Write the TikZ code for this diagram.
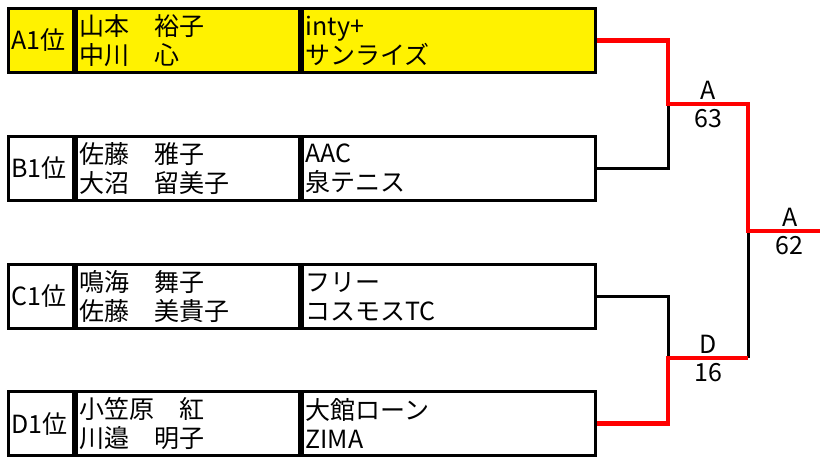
\documentclass[tikz,border=0pt]{standalone}
\usepackage{fontspec}
\setmainfont{Noto Sans CJK JP}
\usetikzlibrary{positioning}
\tikzset{
	cell/.style={draw, line width=3bp, minimum height=64bp, inner sep=3bp, align=left, anchor=north west},
	win/.style={draw=red, line width=4.5bp},
	lose/.style={draw=black, line width=3bp},
}

\begin{document}
\begin{tikzpicture}[x=1bp, y=-1bp, font=\fontsize{25bp}{29bp}\selectfont]
\useasboundingbox (0,0) rectangle (820,457);
\foreach \r/\y/\f/\na/\nb/\ca/\cb in {
	A/7/yellow/山本　裕子/中川　心/inty+/サンライズ,
	B/135/white/佐藤　雅子/大沼　留美子/AAC/泉テニス,
	C/263/white/鳴海　舞子/佐藤　美貴子/フリー/コスモスTC,
	D/390/white/小笠原　紅/川邉　明子/大館ローン/ZIMA}
{
	\node[cell, fill=\f, text width=59bp] (r\r) at (7,\y) {\r1位};
	\node[cell, fill=\f, text width=217bp] (n\r) at (r\r.north east) {\na\\\nb};
	\node[cell, fill=\f, text width=287bp] (c\r) at (n\r.north east) {\ca\\\cb};
}
\coordinate (sfA) at (668,104);
\coordinate (sfD) at (668,358);
\coordinate (fin) at (748,231);
\coordinate (champ) at (820,231);
% losers
\draw[lose] (cB.east) -| (sfA);
\draw[lose] (cC.east) -| (sfD);
\draw[lose] (fin) -- (fin |- sfD);
% winners
\draw[win] (cA.east) -| (sfA) -- (sfA -| fin) -- (fin) -- (champ);
\draw[win] (cD.east) -| (sfD) -- (sfD -| fin);
\path (sfA) -- (sfA -| fin) node[midway, above, inner sep=4bp] {A} node[midway, below, inner sep=5bp] {63};
\path (sfD) -- (sfD -| fin) node[midway, above, inner sep=4bp] {D} node[midway, below, inner sep=5bp] {16};
\path (fin) -- (champ) node[pos=0.58, above, inner sep=4bp] {A} node[pos=0.58, below, inner sep=5bp] {62};
\end{tikzpicture}
\end{document}
